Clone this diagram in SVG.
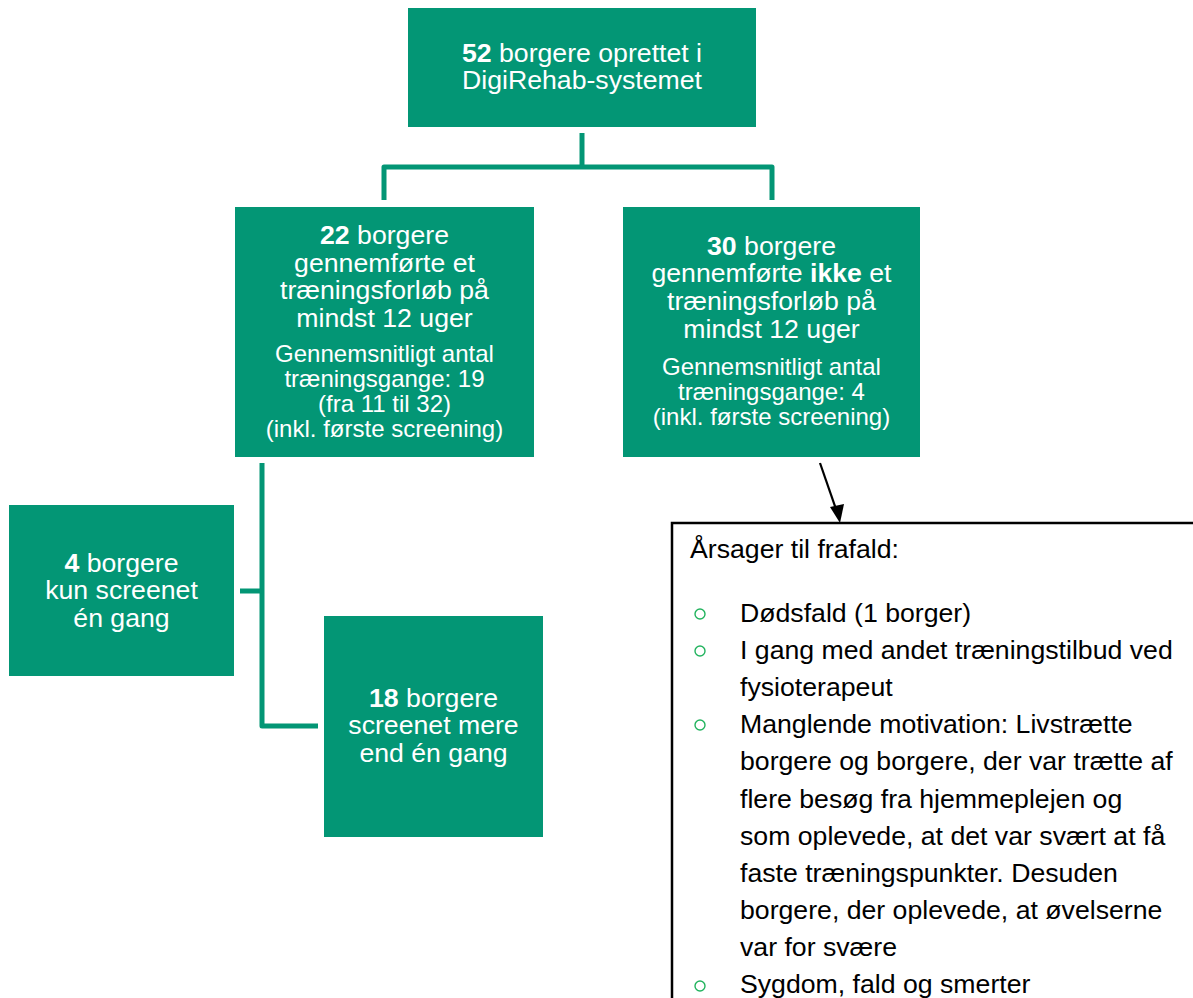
<svg xmlns="http://www.w3.org/2000/svg" width="1193" height="998" viewBox="0 0 1193 998">
<defs>
<style>
.box{fill:#039675;}
.t{font-family:"Liberation Sans",Arial,sans-serif;fill:#ffffff;text-anchor:middle;font-size:26.67px;}
.sm{font-size:24px;}
.b{font-weight:bold;}
.con{fill:none;stroke:#039675;stroke-width:5;stroke-linejoin:round;}
.lt{font-family:"Liberation Sans",Arial,sans-serif;font-size:26.67px;fill:#000000;}
.bul{fill:none;stroke:#22b35e;stroke-width:1.4;}
</style>
</defs>
<rect width="1193" height="998" fill="#ffffff"/>
<g id="connectors">
<path class="con" d="M582,133 V167"/>
<path class="con" d="M384,200 V167 H772 V200"/>
<path class="con" d="M262,463 V726 H318"/>
<path class="con" d="M240,591 H262"/>
<line x1="820" y1="463" x2="837" y2="512" stroke="#000" stroke-width="2.2"/>
<path d="M830,507 L840,523 L844,504 Z" fill="#000"/>
</g>
<g id="node-top">
<rect class="box" x="408" y="8" width="348" height="119"/>
<text class="t"><tspan x="582" y="62"><tspan class="b">52</tspan> borgere oprettet i</tspan><tspan x="582" y="89">DigiRehab-systemet</tspan></text>
</g>
<g id="node-22">
<rect class="box" x="235" y="207" width="299" height="250"/>
<text class="t"><tspan x="384.5" y="244"><tspan class="b">22</tspan> borgere</tspan><tspan x="384.5" y="272">gennemførte et</tspan><tspan x="384.5" y="299">træningsforløb på</tspan><tspan x="384.5" y="327">mindst 12 uger</tspan><tspan class="sm" x="384.5" y="362">Gennemsnitligt antal</tspan><tspan class="sm" x="384.5" y="387">træningsgange: 19</tspan><tspan class="sm" x="384.5" y="412">(fra 11 til 32)</tspan><tspan class="sm" x="384.5" y="437">(inkl. første screening)</tspan></text>
</g>
<g id="node-30">
<rect class="box" x="623" y="207" width="297" height="250"/>
<text class="t"><tspan x="771.5" y="255"><tspan class="b">30</tspan> borgere</tspan><tspan x="771.5" y="282">gennemførte <tspan class="b">ikke</tspan> et</tspan><tspan x="771.5" y="310">træningsforløb på</tspan><tspan x="771.5" y="338">mindst 12 uger</tspan><tspan class="sm" x="771.5" y="375">Gennemsnitligt antal</tspan><tspan class="sm" x="771.5" y="400">træningsgange: 4</tspan><tspan class="sm" x="771.5" y="425">(inkl. første screening)</tspan></text>
</g>
<g id="node-4">
<rect class="box" x="9" y="505" width="225" height="171"/>
<text class="t"><tspan x="121.5" y="572"><tspan class="b">4</tspan> borgere</tspan><tspan x="121.5" y="599">kun screenet</tspan><tspan x="121.5" y="627">én gang</tspan></text>
</g>
<g id="node-18">
<rect class="box" x="324" y="616" width="219" height="221"/>
<text class="t"><tspan x="433.5" y="707"><tspan class="b">18</tspan> borgere</tspan><tspan x="433.5" y="734">screenet mere</tspan><tspan x="433.5" y="762">end én gang</tspan></text>
</g>
<g id="node-reasons">
<rect x="672" y="523" width="540" height="500" fill="#ffffff" stroke="#000" stroke-width="2.5"/>
<text class="lt" x="690" y="558">Årsager til frafald:</text>
<circle class="bul" cx="700" cy="614" r="5"/>
<circle class="bul" cx="700" cy="651" r="5"/>
<circle class="bul" cx="700" cy="725" r="5"/>
<circle class="bul" cx="700" cy="986" r="5"/>
<text class="lt" x="740" y="622">Dødsfald (1 borger)</text>
<text class="lt" x="740" y="659">I gang med andet træningstilbud ved</text>
<text class="lt" x="740" y="696">fysioterapeut</text>
<text class="lt" x="740" y="733">Manglende motivation: Livstrætte</text>
<text class="lt" x="740" y="770">borgere og borgere, der var trætte af</text>
<text class="lt" x="740" y="808">flere besøg fra hjemmeplejen og</text>
<text class="lt" x="740" y="845">som oplevede, at det var svært at få</text>
<text class="lt" x="740" y="882">faste træningspunkter. Desuden</text>
<text class="lt" x="740" y="919">borgere, der oplevede, at øvelserne</text>
<text class="lt" x="740" y="956">var for svære</text>
<text class="lt" x="740" y="993">Sygdom, fald og smerter</text>
</g>
</svg>
